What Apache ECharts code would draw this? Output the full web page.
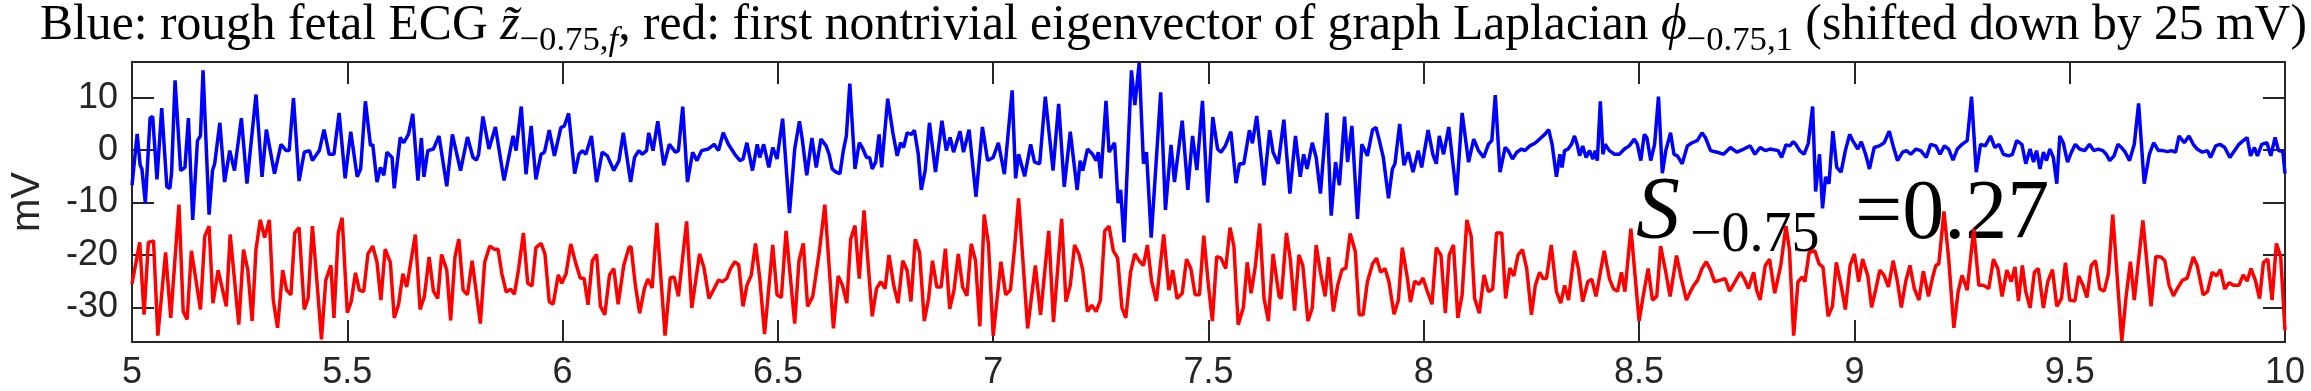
<!DOCTYPE html>
<html><head><meta charset="utf-8">
<script src="https://cdn.jsdelivr.net/npm/echarts@6/dist/echarts.min.js"></script>
<style>html,body{margin:0;padding:0;background:#fff}#c{width:2311px;height:391px}</style>
</head><body><div id="c"></div>
<script>
// ---- data ----
const xTicks = [5, 5.5, 6, 6.5, 7, 7.5, 8, 8.5, 9, 9.5, 10];
const yTicks = [-30, -20, -10, 0, 10];
const xRange = [5, 10];
const yRange = [-36.6, 16.8];
const yName = 'mV';

// blue: rough fetal ECG  [time s, mV]
const blue = [[5.000,-6.7],[5.012,3.1],[5.019,-2.9],[5.023,-3.6],[5.031,-10.1],[5.042,6.1],[5.048,6.4],[5.058,-5.6],[5.069,8.0],[5.081,-7.0],[5.088,-7.3],[5.092,-4.2],[5.100,13.3],[5.113,-3.9],[5.123,-3.3],[5.131,6.1],[5.141,-13.3],[5.152,1.8],[5.159,2.7],[5.165,15.2],[5.179,-12.3],[5.187,-3.9],[5.192,-2.6],[5.204,5.2],[5.215,-6.1],[5.227,-0.1],[5.238,-3.9],[5.254,6.1],[5.267,-6.4],[5.288,10.6],[5.302,-5.1],[5.312,3.9],[5.331,-4.5],[5.346,1.1],[5.358,-0.1],[5.365,-0.1],[5.375,9.9],[5.388,-5.9],[5.400,-0.4],[5.412,-0.1],[5.419,-2.0],[5.435,-0.1],[5.446,3.9],[5.458,-0.8],[5.469,-0.8],[5.481,7.1],[5.495,-5.4],[5.508,3.5],[5.523,-5.1],[5.531,-3.6],[5.542,9.3],[5.554,0.8],[5.559,1.1],[5.569,-6.1],[5.577,-3.3],[5.585,-4.8],[5.592,-0.4],[5.604,-1.4],[5.609,-7.3],[5.623,2.4],[5.631,1.4],[5.642,3.0],[5.652,6.9],[5.664,-5.8],[5.672,2.3],[5.678,-5.1],[5.687,-0.1],[5.700,0.2],[5.713,2.7],[5.731,-6.9],[5.744,3.0],[5.763,-3.9],[5.779,2.5],[5.792,-1.4],[5.800,-1.9],[5.805,-0.8],[5.815,6.4],[5.829,0.2],[5.844,4.4],[5.864,-5.8],[5.885,2.7],[5.892,-0.1],[5.904,8.3],[5.915,-4.6],[5.927,4.6],[5.938,-5.6],[5.950,-0.8],[5.958,-0.4],[5.969,3.8],[5.981,-1.1],[5.996,4.3],[6.004,4.6],[6.014,7.0],[6.028,-4.5],[6.038,-0.8],[6.046,-0.1],[6.054,-0.8],[6.067,2.7],[6.079,-6.1],[6.092,-0.4],[6.104,-1.1],[6.119,-3.9],[6.131,-2.0],[6.141,3.3],[6.158,-6.1],[6.167,-1.4],[6.177,-0.1],[6.185,-0.8],[6.195,-0.1],[6.200,3.3],[6.210,-0.1],[6.221,5.5],[6.235,-2.9],[6.248,1.1],[6.262,-0.4],[6.269,-0.1],[6.279,8.3],[6.290,-6.1],[6.302,-0.4],[6.312,-2.0],[6.323,-0.1],[6.338,0.2],[6.352,1.1],[6.362,-0.1],[6.373,3.3],[6.385,1.1],[6.400,-0.8],[6.412,-2.0],[6.419,-1.7],[6.428,1.4],[6.441,-3.9],[6.452,1.1],[6.458,-1.4],[6.467,1.1],[6.479,-3.3],[6.488,0.5],[6.498,-1.7],[6.511,6.0],[6.527,-12.0],[6.539,0.2],[6.550,5.5],[6.556,2.4],[6.567,-4.8],[6.579,2.3],[6.589,-3.3],[6.600,2.1],[6.612,0.8],[6.619,-0.8],[6.626,-3.6],[6.635,-4.2],[6.644,-4.5],[6.652,-0.1],[6.659,2.7],[6.667,12.7],[6.679,-3.6],[6.689,1.4],[6.696,0.5],[6.706,-1.4],[6.713,-1.4],[6.719,-3.6],[6.727,-2.3],[6.735,3.0],[6.741,-3.3],[6.755,9.8],[6.767,3.3],[6.777,-1.1],[6.785,1.4],[6.792,0.5],[6.800,3.3],[6.810,3.0],[6.817,3.8],[6.826,-0.8],[6.833,-7.6],[6.842,-3.9],[6.852,5.2],[6.866,-4.2],[6.881,5.6],[6.891,-0.1],[6.900,2.4],[6.908,-0.4],[6.923,3.6],[6.931,-0.4],[6.944,3.9],[6.960,-8.9],[6.975,4.4],[6.987,-2.0],[7.000,-1.4],[7.012,1.4],[7.026,-4.6],[7.044,11.4],[7.052,-5.4],[7.059,-0.8],[7.066,-2.9],[7.073,-5.0],[7.087,1.1],[7.096,-2.3],[7.108,-2.6],[7.121,10.2],[7.139,-3.9],[7.152,8.8],[7.165,-7.0],[7.179,3.5],[7.195,-7.6],[7.202,-2.0],[7.208,-3.9],[7.219,0.2],[7.231,-0.8],[7.239,-2.0],[7.244,-0.4],[7.250,-5.4],[7.262,9.4],[7.269,-0.4],[7.282,1.4],[7.290,-10.1],[7.296,-7.6],[7.304,-17.6],[7.321,15.2],[7.329,8.6],[7.339,16.6],[7.349,-2.6],[7.356,-0.4],[7.367,-16.7],[7.389,11.0],[7.400,-11.4],[7.413,1.0],[7.421,-6.1],[7.439,5.6],[7.452,-7.6],[7.463,2.7],[7.473,-3.8],[7.486,9.4],[7.498,-10.0],[7.510,6.3],[7.521,0.2],[7.529,-0.4],[7.539,0.8],[7.552,3.5],[7.564,-6.3],[7.572,-2.6],[7.582,-2.6],[7.595,3.8],[7.602,1.3],[7.612,6.5],[7.629,-6.7],[7.642,3.8],[7.650,-0.4],[7.662,-2.6],[7.675,5.8],[7.689,-8.3],[7.702,2.7],[7.713,-5.1],[7.721,-0.8],[7.729,-3.6],[7.741,1.4],[7.750,-1.4],[7.760,-8.3],[7.775,7.1],[7.785,-12.5],[7.795,-2.3],[7.804,-6.7],[7.816,6.4],[7.823,-2.3],[7.833,4.6],[7.846,-13.1],[7.856,1.1],[7.869,-1.1],[7.881,3.9],[7.889,4.3],[7.896,2.1],[7.906,-1.4],[7.918,-9.2],[7.927,-3.6],[7.933,-2.6],[7.944,5.0],[7.954,-2.9],[7.964,-0.4],[7.975,-4.2],[7.987,-0.1],[7.995,-3.3],[8.010,3.8],[8.021,-0.8],[8.029,-2.6],[8.036,2.7],[8.046,-0.8],[8.058,4.4],[8.076,-8.6],[8.089,7.1],[8.104,-2.3],[8.116,2.1],[8.127,-0.1],[8.139,-1.4],[8.150,1.1],[8.158,1.8],[8.166,10.5],[8.177,-4.2],[8.189,0.5],[8.196,-0.1],[8.206,-1.7],[8.216,-0.4],[8.227,0.2],[8.235,-0.1],[8.246,0.8],[8.258,1.3],[8.269,2.1],[8.281,3.0],[8.290,3.9],[8.298,1.1],[8.308,-5.1],[8.316,-0.8],[8.321,-3.3],[8.327,-0.1],[8.335,0.2],[8.343,1.1],[8.350,2.7],[8.356,1.1],[8.362,-1.1],[8.369,0.8],[8.377,-1.4],[8.385,-0.1],[8.393,-1.7],[8.398,-0.1],[8.403,-2.0],[8.410,9.3],[8.416,-0.8],[8.421,1.1],[8.431,-0.1],[8.443,-0.8],[8.454,-0.8],[8.466,0.2],[8.477,0.8],[8.489,2.1],[8.496,1.1],[8.504,-2.0],[8.512,3.0],[8.518,2.4],[8.527,-2.0],[8.536,1.1],[8.545,10.2],[8.554,-4.4],[8.562,-0.1],[8.573,3.3],[8.581,-0.8],[8.589,-1.1],[8.600,-2.6],[8.612,0.8],[8.623,1.4],[8.635,1.8],[8.646,3.3],[8.654,2.4],[8.666,-0.1],[8.681,-0.4],[8.696,-0.8],[8.712,0.5],[8.727,-0.4],[8.743,0.2],[8.758,0.8],[8.769,-0.8],[8.781,0.5],[8.793,-0.1],[8.804,0.2],[8.823,-0.1],[8.831,-1.4],[8.841,1.0],[8.850,0.8],[8.858,1.6],[8.864,1.1],[8.873,-0.1],[8.883,-0.8],[8.893,1.3],[8.903,8.3],[8.910,-7.9],[8.919,-0.8],[8.926,-11.1],[8.933,-5.1],[8.941,-6.4],[8.950,3.6],[8.959,-3.3],[8.969,-4.2],[8.979,-0.1],[8.989,3.0],[8.996,1.8],[9.008,0.2],[9.016,1.6],[9.026,-0.8],[9.035,-3.6],[9.046,0.5],[9.058,0.8],[9.069,1.4],[9.081,3.6],[9.090,0.8],[9.100,-2.0],[9.112,-0.4],[9.121,-0.1],[9.131,-0.8],[9.143,0.2],[9.154,-0.1],[9.167,-1.4],[9.177,1.1],[9.189,0.8],[9.199,-0.8],[9.209,0.8],[9.219,0.2],[9.229,-1.9],[9.239,0.2],[9.250,1.1],[9.262,1.8],[9.272,10.2],[9.283,-4.2],[9.293,1.1],[9.304,0.8],[9.316,2.7],[9.326,0.5],[9.336,1.1],[9.346,-0.8],[9.358,-1.1],[9.367,-0.8],[9.377,1.8],[9.389,1.1],[9.398,-2.6],[9.408,0.2],[9.416,-2.3],[9.423,-0.1],[9.431,-3.6],[9.439,-0.4],[9.446,-2.0],[9.454,0.2],[9.462,-1.4],[9.470,-6.4],[9.477,2.7],[9.485,1.4],[9.495,-2.3],[9.504,-0.4],[9.513,1.1],[9.523,0.2],[9.535,-0.1],[9.546,1.1],[9.556,-0.1],[9.566,0.2],[9.577,-0.1],[9.585,-0.8],[9.593,-2.0],[9.603,-1.1],[9.612,1.1],[9.620,0.5],[9.629,-0.4],[9.639,-2.0],[9.650,1.1],[9.660,8.9],[9.673,-6.4],[9.685,-0.8],[9.695,1.4],[9.706,-0.1],[9.716,-0.1],[9.727,-0.3],[9.736,-0.1],[9.746,-0.4],[9.754,2.7],[9.766,1.4],[9.777,2.7],[9.787,1.1],[9.796,0.2],[9.808,-0.4],[9.820,-0.1],[9.827,-1.4],[9.839,0.8],[9.849,1.1],[9.860,0.5],[9.872,-1.4],[9.883,-0.1],[9.893,1.1],[9.903,1.8],[9.912,2.4],[9.920,-1.1],[9.929,0.5],[9.936,-1.1],[9.946,1.1],[9.958,1.4],[9.967,-1.1],[9.977,2.4],[9.985,-0.1],[9.995,-0.3],[10.0,-4.5]];

// red: first nontrivial eigenvector, shifted down by 25 mV  [time s, mV]
const red = [[5.000,-25.5],[5.018,-17.6],[5.028,-31.4],[5.038,-17.6],[5.050,-17.3],[5.060,-35.4],[5.078,-19.5],[5.090,-32.0],[5.109,-10.4],[5.119,-30.8],[5.128,-32.3],[5.138,-19.2],[5.159,-30.4],[5.169,-16.4],[5.179,-14.5],[5.188,-29.2],[5.200,-22.9],[5.219,-29.8],[5.228,-16.1],[5.248,-33.3],[5.259,-19.0],[5.269,-22.9],[5.279,-32.6],[5.288,-18.9],[5.298,-13.3],[5.308,-16.7],[5.319,-13.3],[5.328,-28.6],[5.338,-33.9],[5.350,-22.9],[5.359,-26.7],[5.369,-27.6],[5.378,-15.8],[5.388,-14.8],[5.400,-30.4],[5.409,-28.3],[5.419,-14.5],[5.429,-24.5],[5.440,-36.1],[5.450,-24.8],[5.462,-22.0],[5.469,-32.0],[5.479,-15.8],[5.488,-12.9],[5.500,-31.0],[5.509,-28.9],[5.519,-23.4],[5.528,-26.7],[5.538,-27.0],[5.548,-19.8],[5.559,-18.3],[5.569,-21.4],[5.578,-28.6],[5.588,-18.9],[5.600,-21.4],[5.609,-32.0],[5.619,-29.5],[5.629,-23.6],[5.638,-26.1],[5.658,-16.1],[5.669,-30.4],[5.679,-27.9],[5.690,-20.4],[5.700,-26.9],[5.710,-28.3],[5.719,-19.9],[5.731,-22.9],[5.740,-32.5],[5.750,-20.4],[5.759,-17.0],[5.769,-26.7],[5.779,-27.6],[5.790,-21.1],[5.809,-33.1],[5.819,-21.4],[5.831,-18.3],[5.841,-18.9],[5.850,-18.9],[5.859,-23.6],[5.869,-27.1],[5.879,-26.5],[5.888,-27.5],[5.898,-22.6],[5.909,-15.8],[5.919,-25.4],[5.929,-25.9],[5.938,-18.6],[5.950,-17.8],[5.959,-19.8],[5.969,-28.9],[5.978,-29.4],[5.990,-23.8],[5.998,-25.4],[6.008,-23.6],[6.019,-17.9],[6.031,-21.7],[6.041,-24.4],[6.050,-24.5],[6.059,-29.5],[6.069,-21.1],[6.079,-19.9],[6.088,-29.8],[6.098,-31.4],[6.109,-23.8],[6.119,-22.6],[6.129,-29.4],[6.142,-22.0],[6.154,-18.6],[6.159,-18.4],[6.169,-25.8],[6.179,-31.1],[6.190,-26.4],[6.198,-24.6],[6.208,-26.3],[6.219,-13.9],[6.238,-35.4],[6.250,-24.4],[6.259,-24.2],[6.269,-27.9],[6.288,-13.6],[6.300,-30.1],[6.318,-19.8],[6.328,-22.3],[6.340,-28.3],[6.352,-26.4],[6.362,-24.8],[6.371,-25.1],[6.381,-24.5],[6.390,-22.6],[6.400,-21.3],[6.409,-21.9],[6.419,-29.8],[6.428,-25.8],[6.438,-23.9],[6.448,-17.8],[6.458,-24.5],[6.469,-35.1],[6.488,-18.1],[6.498,-27.6],[6.508,-28.1],[6.519,-15.4],[6.539,-33.1],[6.549,-21.1],[6.559,-17.8],[6.569,-29.8],[6.581,-27.9],[6.596,-19.5],[6.609,-10.4],[6.629,-34.0],[6.640,-24.0],[6.650,-25.8],[6.660,-29.2],[6.669,-17.0],[6.679,-14.4],[6.689,-24.5],[6.700,-11.5],[6.719,-31.7],[6.729,-26.4],[6.739,-25.1],[6.749,-26.4],[6.758,-20.0],[6.769,-25.8],[6.779,-29.2],[6.790,-21.1],[6.800,-22.9],[6.809,-28.9],[6.819,-17.0],[6.829,-19.5],[6.840,-32.6],[6.850,-28.3],[6.859,-21.1],[6.869,-26.1],[6.879,-26.1],[6.889,-18.8],[6.899,-30.3],[6.909,-26.7],[6.919,-19.8],[6.929,-26.1],[6.939,-27.8],[6.949,-17.9],[6.959,-21.1],[6.969,-33.6],[6.979,-12.3],[6.989,-17.9],[7.000,-35.4],[7.018,-21.3],[7.029,-27.6],[7.040,-26.7],[7.050,-18.3],[7.059,-9.2],[7.080,-34.0],[7.098,-22.0],[7.110,-31.4],[7.129,-15.4],[7.140,-32.8],[7.159,-13.1],[7.169,-28.9],[7.179,-25.8],[7.189,-18.1],[7.199,-19.8],[7.208,-22.9],[7.219,-30.8],[7.229,-29.6],[7.239,-30.8],[7.249,-28.6],[7.259,-15.4],[7.269,-14.5],[7.279,-19.2],[7.289,-20.6],[7.299,-30.1],[7.308,-32.0],[7.319,-23.3],[7.329,-19.8],[7.339,-21.1],[7.349,-22.0],[7.358,-18.1],[7.368,-25.1],[7.379,-28.8],[7.396,-16.1],[7.408,-26.7],[7.417,-22.9],[7.427,-28.3],[7.439,-27.3],[7.449,-20.8],[7.459,-22.6],[7.469,-27.6],[7.479,-27.6],[7.489,-16.3],[7.499,-25.1],[7.509,-32.6],[7.519,-20.3],[7.529,-20.6],[7.540,-22.6],[7.550,-14.8],[7.559,-18.3],[7.569,-33.3],[7.581,-30.0],[7.590,-21.4],[7.599,-27.3],[7.609,-22.0],[7.619,-14.0],[7.629,-28.3],[7.639,-32.6],[7.650,-19.8],[7.664,-27.9],[7.669,-28.3],[7.681,-15.8],[7.690,-20.8],[7.700,-30.6],[7.710,-20.0],[7.719,-22.0],[7.731,-32.6],[7.741,-30.1],[7.750,-18.1],[7.760,-23.3],[7.771,-27.9],[7.779,-20.4],[7.790,-30.8],[7.800,-25.8],[7.810,-22.8],[7.819,-22.5],[7.829,-15.9],[7.841,-19.4],[7.850,-31.4],[7.859,-31.4],[7.869,-25.1],[7.881,-21.7],[7.890,-20.6],[7.900,-23.3],[7.910,-22.6],[7.919,-25.1],[7.931,-31.3],[7.941,-28.6],[7.950,-18.6],[7.962,-24.5],[7.969,-29.0],[7.979,-25.0],[7.989,-25.6],[7.998,-24.4],[8.008,-26.9],[8.019,-29.4],[8.029,-18.6],[8.040,-20.1],[8.050,-31.1],[8.059,-20.0],[8.069,-18.1],[8.079,-32.0],[8.089,-27.6],[8.100,-13.3],[8.110,-16.4],[8.118,-28.3],[8.129,-31.1],[8.140,-23.8],[8.150,-27.0],[8.160,-26.5],[8.169,-15.8],[8.181,-15.8],[8.190,-28.3],[8.200,-22.5],[8.209,-24.0],[8.219,-20.0],[8.229,-19.0],[8.239,-22.6],[8.250,-31.4],[8.259,-25.8],[8.269,-23.3],[8.277,-24.5],[8.285,-24.5],[8.296,-18.1],[8.308,-27.0],[8.318,-29.2],[8.327,-25.8],[8.336,-28.6],[8.350,-19.2],[8.359,-22.6],[8.369,-28.9],[8.381,-25.1],[8.390,-24.6],[8.400,-27.9],[8.419,-19.2],[8.431,-24.5],[8.441,-26.5],[8.450,-26.9],[8.459,-23.3],[8.467,-27.0],[8.481,-15.0],[8.500,-32.6],[8.510,-27.6],[8.521,-22.6],[8.531,-28.6],[8.541,-27.9],[8.550,-18.3],[8.562,-23.3],[8.572,-27.9],[8.587,-20.1],[8.598,-24.5],[8.610,-28.6],[8.619,-27.0],[8.627,-25.8],[8.636,-24.8],[8.646,-22.6],[8.656,-21.3],[8.666,-22.9],[8.675,-25.1],[8.689,-24.8],[8.700,-24.5],[8.710,-26.9],[8.723,-25.1],[8.735,-23.3],[8.744,-24.5],[8.754,-26.4],[8.766,-23.3],[8.773,-26.7],[8.781,-28.6],[8.793,-22.0],[8.803,-20.8],[8.815,-27.3],[8.829,-22.0],[8.841,-14.5],[8.849,-18.9],[8.859,-35.4],[8.869,-25.1],[8.879,-24.2],[8.885,-25.1],[8.895,-19.5],[8.908,-19.2],[8.918,-21.7],[8.927,-22.3],[8.939,-31.7],[8.949,-29.8],[8.958,-21.4],[8.969,-25.8],[8.979,-30.4],[8.990,-22.0],[9.000,-19.8],[9.010,-25.1],[9.019,-20.8],[9.031,-23.9],[9.040,-30.0],[9.050,-26.4],[9.059,-22.9],[9.069,-23.9],[9.079,-26.1],[9.090,-21.1],[9.100,-25.1],[9.109,-30.0],[9.119,-25.1],[9.129,-22.0],[9.139,-26.4],[9.150,-28.6],[9.160,-23.1],[9.172,-27.9],[9.181,-24.5],[9.189,-22.0],[9.196,-21.7],[9.208,-11.7],[9.219,-20.8],[9.231,-33.9],[9.241,-27.0],[9.250,-23.9],[9.262,-26.7],[9.277,-15.1],[9.289,-25.8],[9.300,-25.8],[9.312,-26.4],[9.323,-20.8],[9.333,-22.6],[9.343,-27.9],[9.354,-22.9],[9.364,-25.1],[9.373,-22.3],[9.381,-28.8],[9.390,-22.0],[9.398,-27.0],[9.408,-30.1],[9.418,-23.3],[9.427,-22.6],[9.439,-30.1],[9.449,-25.1],[9.460,-22.8],[9.470,-29.8],[9.481,-28.3],[9.490,-21.5],[9.500,-28.6],[9.512,-28.8],[9.521,-24.0],[9.531,-25.8],[9.540,-28.1],[9.550,-22.0],[9.560,-21.1],[9.570,-26.5],[9.580,-26.9],[9.590,-23.6],[9.600,-12.3],[9.621,-36.4],[9.631,-27.9],[9.641,-21.3],[9.650,-28.6],[9.670,-13.4],[9.689,-29.8],[9.700,-20.3],[9.712,-20.4],[9.721,-21.1],[9.731,-25.8],[9.741,-27.8],[9.750,-26.4],[9.762,-24.8],[9.773,-24.4],[9.787,-20.4],[9.796,-22.0],[9.810,-27.6],[9.820,-27.0],[9.831,-23.3],[9.841,-24.0],[9.850,-22.8],[9.860,-26.5],[9.870,-25.3],[9.881,-25.8],[9.893,-25.8],[9.903,-23.8],[9.912,-25.0],[9.921,-22.6],[9.931,-24.8],[9.941,-28.3],[9.950,-21.4],[9.960,-20.8],[9.970,-28.6],[9.980,-17.8],[9.990,-20.3],[10.0,-34.4]];

// title pieces: n = normal, i = italic, s = subscript, si = italic subscript
const titleParts = [
  ['Blue: rough fetal ECG ', 'n'],
  ['z\u0303', 'i'],
  ['\u22120.75,', 's'],
  ['f', 'si'],
  [', red: first nontrivial eigenvector of graph Laplacian ', 'n'],
  ['\u03d5', 'i'],
  ['\u22120.75,1', 's'],
  [' (shifted down by 25 mV)', 'n']
];
const annotMain = 'S';
const annotSub = '\u22120.75';
const annotValue = '=0.27';

// ---- layout ----
const W = 2311, H = 391;
const grid = {left: 118, top: 62, right: 26, bottom: 45};
const axisColor = '#262626';
const serif = '"Liberation Serif", "Times New Roman", serif';
const sans = '"Liberation Sans", Arial, Helvetica, sans-serif';

const cv = document.createElement('canvas').getContext('2d');
function fontOf(kind, size) {
  const it = (kind === 'i' || kind === 'si') ? 'italic ' : '';
  const s = (kind === 's' || kind === 'si') ? size * 0.7 : size;
  return {font: it + s.toFixed(2) + 'px ' + serif, size: s};
}
function measure(text, font) { cv.font = font; return cv.measureText(text).width; }

const graphics = [];
// title fitted to reference extent (x 40 .. 2307)
(function () {
  const base = 36;
  let tot = 0;
  titleParts.forEach(([t, k]) => { tot += measure(t, fontOf(k, base).font); });
  const size = base * (2267 / tot);
  let x = 40;
  const baseLine = 43;
  titleParts.forEach(([t, k]) => {
    const f = fontOf(k, size);
    const isSub = (k === 's' || k === 'si');
    const bl = isSub ? baseLine + 0.2 * size : baseLine;
    graphics.push({
      type: 'text', x: x, y: bl - 0.34 * f.size, z: 10,
      style: {text: t, font: f.font, fill: '#000', textAlign: 'left', textVerticalAlign: 'middle', verticalAlign: 'middle'}
    });
    x += measure(t, f.font);
  });
})();
// S annotation
(function () {
  const items = [
    {t: annotMain, font: 'italic 88px ' + serif, size: 88, x: 1636, bl: 244},
    {t: annotSub, font: '56px ' + serif, size: 56, x: 1690, bl: 255},
    {t: annotValue, font: '84px ' + serif, size: 84, x: 1855, bl: 244}
  ];
  items.forEach(it => graphics.push({
    type: 'text', x: it.x, y: it.bl - 0.34 * it.size, z: 0, zlevel: 0,
    style: {text: it.t, font: it.font, fill: '#000', textAlign: 'left', textVerticalAlign: 'middle', verticalAlign: 'middle'}
  }));
})();

const chart = echarts.init(document.getElementById('c'), null, {renderer: 'canvas', width: W, height: H});

function xAx(pos, labels) {
  return {
    type: 'value', min: xRange[0], max: xRange[1], position: pos,
    axisLine: {show: true, onZero: false, lineStyle: {color: axisColor, width: 2}},
    axisTick: {show: true, inside: true, length: 22, customValues: xTicks, lineStyle: {color: axisColor, width: 2}},
    axisLabel: {show: labels, customValues: xTicks, color: axisColor, fontSize: 36, fontFamily: sans, margin: 13},
    splitLine: {show: false}
  };
}
function yAx(pos, labels) {
  const a = {
    type: 'value', min: yRange[0], max: yRange[1], position: pos,
    axisLine: {show: true, onZero: false, lineStyle: {color: axisColor, width: 2}},
    axisTick: {show: true, inside: true, length: 22, customValues: yTicks, lineStyle: {color: axisColor, width: 2}},
    axisLabel: {show: labels, customValues: yTicks, color: axisColor, fontSize: 36, fontFamily: sans, margin: 14},
    splitLine: {show: false}
  };
  if (labels) {
    a.name = yName; a.nameLocation = 'middle'; a.nameGap = 84;
    a.nameTextStyle = {color: axisColor, fontSize: 40, fontFamily: sans};
  }
  return a;
}

chart.setOption({
  animation: false,
  backgroundColor: '#fff',
  grid: Object.assign({containLabel: false}, grid),
  xAxis: [xAx('bottom', true), xAx('top', false)],
  yAxis: [yAx('left', true), yAx('right', false)],
  series: [
    {type: 'line', xAxisIndex: 0, yAxisIndex: 0, data: blue, showSymbol: false, symbol: 'none', z: 5,
     lineStyle: {color: '#0000ff', width: 3.5}, itemStyle: {color: '#0000ff'}},
    {type: 'line', xAxisIndex: 0, yAxisIndex: 0, data: red, showSymbol: false, symbol: 'none', z: 5,
     lineStyle: {color: '#ff0000', width: 3.5}, itemStyle: {color: '#ff0000'}}
  ],
  graphic: {elements: graphics}
});
</script>
</body></html>
